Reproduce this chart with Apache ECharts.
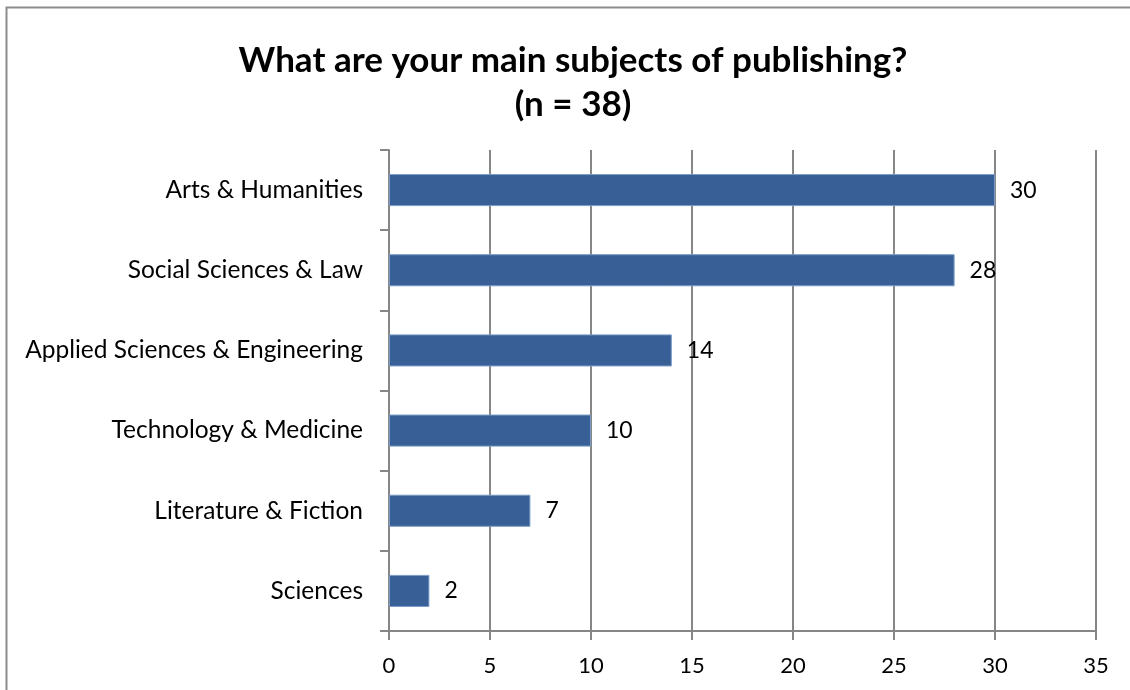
<!DOCTYPE html>
<html><head><meta charset="utf-8">
<script src="https://cdn.jsdelivr.net/npm/echarts@6/dist/echarts.min.js"></script>
<style>html,body{margin:0;padding:0;background:#fff}#c{width:1130px;height:690px}</style>
</head><body><div id="c"></div>
<script>
const categories = ["Sciences","Literature & Fiction","Technology & Medicine","Applied Sciences & Engineering","Social Sciences & Law","Arts & Humanities"];
const values = [2,7,10,14,28,30];
const xTicks = [0,5,10,15,20,25,30,35];
const chart = echarts.init(document.getElementById('c'));
const font = 'Lato, "Open Sans", sans-serif';
chart.setOption({
  animation:false,
  title:{text:'What are your main subjects of publishing?\n(n = 38)',left:568,top:34,textAlign:'center',
    textStyle:{fontFamily:font,fontSize:35,fontWeight:'bold',color:'#000',lineHeight:44}},
  graphic:[{type:'polyline',shape:{points:[[6.5,700],[6.5,7.5],[1140,7.5]]},style:{fill:'none',stroke:'#8c8c8c',lineWidth:2},z:-1}],
  grid:{left:389,right:34,top:150,bottom:59},
  xAxis:{type:'value',min:0,max:35,interval:5,
    axisLine:{show:true,lineStyle:{color:'#868686',width:2}},
    axisTick:{show:true,length:9,lineStyle:{color:'#868686',width:2}},
    splitLine:{show:true,lineStyle:{color:'#868686',width:2}},
    axisLabel:{fontFamily:font,fontSize:22,color:'#000',margin:24}},
  yAxis:{type:'category',data:categories,
    axisLine:{show:true,lineStyle:{color:'#868686',width:2}},
    axisTick:{show:true,length:9,lineStyle:{color:'#868686',width:2}},
    axisLabel:{fontFamily:font,fontSize:24.5,color:'#000',margin:26}},
  series:[{type:'bar',data:values,barWidth:'40%',
    itemStyle:{color:'#386096',borderColor:'#7a9cc6',borderWidth:1},
    label:{show:true,position:'right',distance:15,fontFamily:font,fontSize:23,color:'#000'}}]
});
</script></body></html>
